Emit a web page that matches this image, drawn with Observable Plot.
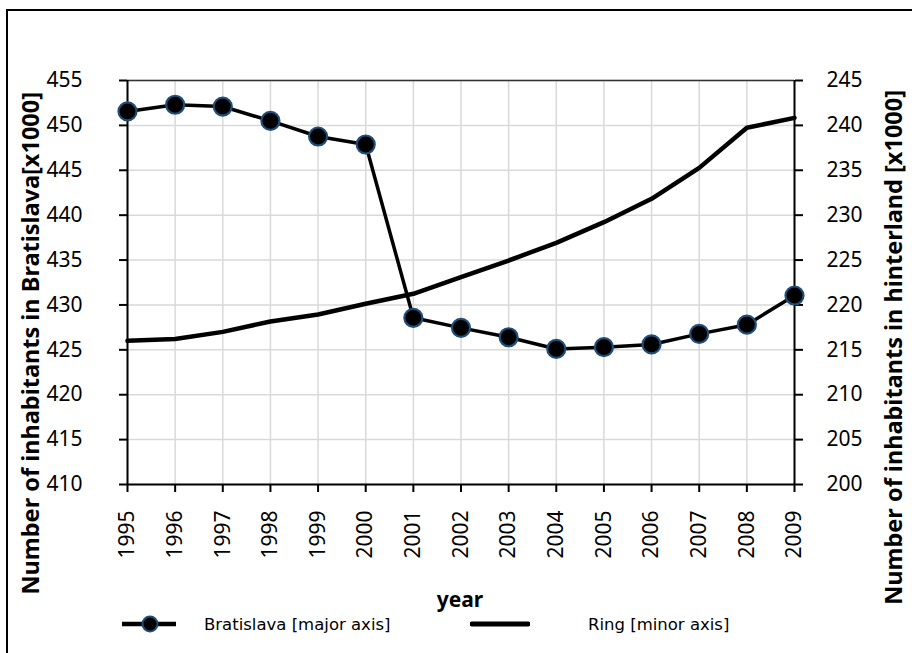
<!DOCTYPE html>
<html>
<head>
<meta charset="utf-8">
<script src="https://cdn.jsdelivr.net/npm/d3@7"></script>
<script src="https://cdn.jsdelivr.net/npm/@observablehq/plot@0.6"></script>
<style>
  html, body { margin: 0; padding: 0; background: white; overflow: hidden; }
  #wrap { position: relative; width: 912px; height: 653px; }
  #frame { position: absolute; left: 6px; top: 9px; width: 1000px; height: 1000px;
           border-left: 2px solid #000; border-top: 2px solid #000; pointer-events: none; }
  #legend { position: absolute; left: 0; top: 610px; width: 912px; height: 30px;
            font-family: "DejaVu Sans", sans-serif; font-size: 16.5px; color: #000; }
  #legend .item { position: absolute; top: 0; display: flex; align-items: center; height: 28px; white-space: nowrap; }
  #xtitle { position: absolute; left: 0; width: 920px; top: 585px; text-align: center;
            font-family: "Noto Sans", sans-serif; font-weight: bold; font-size: 21px; }
</style>
</head>
<body>
<div id="wrap"></div>
<script>
const years = [1995, 1996, 1997, 1998, 1999, 2000, 2001, 2002, 2003, 2004, 2005, 2006, 2007, 2008, 2009];
const bratislava = [451.55, 452.3, 452.1, 450.5, 448.76, 447.87, 428.57, 427.45, 426.4, 425.1, 425.3, 425.6, 426.78, 427.8, 431.05];
const ring = [216.0, 216.2, 217.0, 218.16, 218.94, 220.13, 221.24, 223.1, 224.95, 226.92, 229.22, 231.82, 235.27, 239.73, 240.84];
const leftTicks = [410, 415, 420, 425, 430, 435, 440, 445, 450, 455];
const rightTicks = [200, 205, 210, 215, 220, 225, 230, 235, 240, 245];
const leftTitle = "Number of inhabitants in Bratislava[x1000]";
const rightTitle = "Number of inhabitants in hinterland [x1000]";
const xTitle = "year";
const seriesNames = ["Bratislava [major axis]", "Ring [minor axis]"];

// right axis maps onto left scale with a fixed offset (both span 45 units)
const offset = leftTicks[0] - rightTicks[0];

const bratData = years.map((year, i) => ({year, value: bratislava[i]}));
const ringData = years.map((year, i) => ({year, value: ring[i]}));

const grid = {stroke: "#d9d9d9", strokeOpacity: 1, strokeWidth: 1.5};

const chart = Plot.plot({
  width: 912,
  height: 653,
  marginLeft: 127,
  marginRight: 118,
  marginTop: 80,
  marginBottom: 169,
  style: {fontFamily: "Noto Sans, sans-serif", fontSize: "21px", color: "#000", background: "white", overflow: "visible"},
  x: {domain: [years[0], years[years.length - 1]]},
  y: {domain: [leftTicks[0], leftTicks[leftTicks.length - 1]]},
  marks: [
    Plot.gridX(years, grid),
    Plot.gridY(leftTicks, grid),
    Plot.axisX(years, {tickRotate: -90, tickSize: 8, tickPadding: 18, tickFormat: d => String(d), label: null, fontSize: 21, strokeWidth: 2}),
    Plot.axisY(leftTicks, {anchor: "left", tickSize: 8, tickPadding: 37, label: null, fontSize: 21, strokeWidth: 2}),
    Plot.axisY(leftTicks, {anchor: "right", tickSize: 8, tickPadding: 24, label: null, fontSize: 21, strokeWidth: 2,
      tickFormat: d => String(d - offset)}),
    Plot.ruleY([leftTicks[leftTicks.length - 1]], {stroke: "#333", strokeWidth: 1.5}),
    Plot.ruleX([years[0], years[years.length - 1]], {stroke: "#000", strokeWidth: 2}),
    Plot.ruleY([leftTicks[0]], {stroke: "#000", strokeWidth: 2}),
    Plot.line(ringData, {x: "year", y: d => d.value + offset, stroke: "#000", strokeWidth: 4.5, strokeLinejoin: "round"}),
    Plot.line(bratData, {x: "year", y: "value", stroke: "#000", strokeWidth: 3.5}),
    Plot.dot(bratData, {x: "year", y: "value", r: 9, fill: "#000", stroke: "#1f4e79", strokeWidth: 2.2})
  ]
});

const wrap = document.getElementById("wrap");
wrap.appendChild(chart);

// axis titles
const svg = d3.select(chart);
svg.append("text")
  .attr("transform", "translate(39,92) rotate(-90)")
  .attr("text-anchor", "end")
  .attr("font-family", "Noto Sans, sans-serif")
  .attr("font-weight", "bold")
  .attr("font-size", 23.5)
  .attr("fill", "#000")
  .text(leftTitle);
svg.append("text")
  .attr("transform", "translate(902,90) rotate(-90)")
  .attr("text-anchor", "end")
  .attr("font-family", "Noto Sans, sans-serif")
  .attr("font-weight", "bold")
  .attr("font-size", 23.5)
  .attr("fill", "#000")
  .text(rightTitle);

// x title
const xt = document.createElement("div");
xt.id = "xtitle";
xt.textContent = xTitle;
wrap.appendChild(xt);

// legend
const legend = document.createElement("div");
legend.id = "legend";
legend.innerHTML = `
  <div class="item" style="left:120px">
    <svg width="58" height="28"><line x1="2" y1="14" x2="56" y2="14" stroke="#000" stroke-width="4.5"/>
      <circle cx="30" cy="14" r="7.5" fill="#000" stroke="#1f4e79" stroke-width="2"/></svg>
  </div>
  <div class="item" style="left:204px"><span>${seriesNames[0]}</span></div>
  <div class="item" style="left:470px">
    <svg width="60" height="28"><line x1="2" y1="14" x2="58" y2="14" stroke="#000" stroke-width="5" stroke-linecap="round"/></svg>
  </div>
  <div class="item" style="left:588px"><span>${seriesNames[1]}</span></div>
`;
wrap.appendChild(legend);

const fr = document.createElement("div");
fr.id = "frame";
wrap.appendChild(fr);
</script>
</body>
</html>
